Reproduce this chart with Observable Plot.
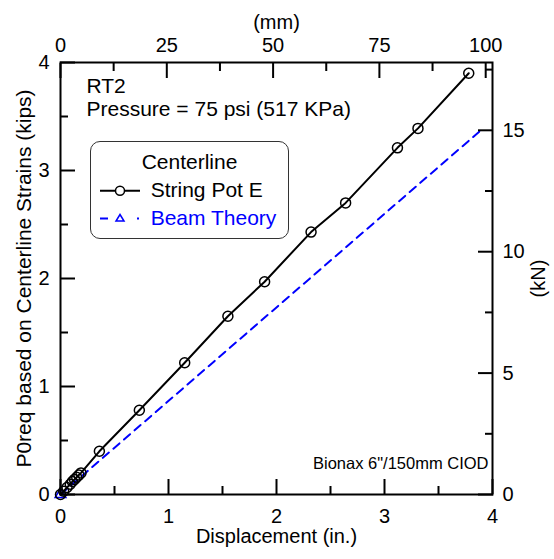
<!DOCTYPE html>
<html><head><meta charset="utf-8">
<script src="https://cdn.jsdelivr.net/npm/d3@7"></script>
<script src="https://cdn.jsdelivr.net/npm/@observablehq/plot@0.6"></script>
<style>
body{margin:0;background:#fff;font-family:"Liberation Sans",Arial,sans-serif;}
#wrap{position:relative;width:554px;height:559px;}
.lg{position:absolute;font-size:21px;line-height:21px;white-space:nowrap;}
#box{position:absolute;left:90px;top:141px;width:197px;height:96px;border:1.3px solid #333;border-radius:10px;}
</style></head><body><div id="wrap"></div>
<script>
// String Pot E (displacement in., load kips)
const strX = [0, 0.03, 0.06, 0.09, 0.11, 0.13, 0.15, 0.17, 0.19, 0.36, 0.73, 1.15, 1.55, 1.89, 2.32, 2.64, 3.12, 3.31, 3.78];
const strY = [0, 0.03, 0.065, 0.095, 0.12, 0.14, 0.16, 0.18, 0.20, 0.40, 0.78, 1.22, 1.65, 1.97, 2.43, 2.70, 3.21, 3.39, 3.90];
// Beam Theory
const beamX = [0, 3.89];
const beamY = [0, 3.37];
// tick values
const inTicks = [0, 1, 2, 3, 4];
const inMinor = [0.5, 1.5, 2.5, 3.5];
const mmTicks = [0, 25, 50, 75, 100];
const mmMinor = [12.5, 37.5, 62.5, 87.5];
const kipTicks = [0, 1, 2, 3, 4];
const kipMinor = [0.5, 1.5, 2.5, 3.5];
const kNTicks = [0, 5, 10, 15];
const kNMinor = [2.5, 7.5, 12.5, 17.5];
const MM_PER_IN = 25.4;
const KN_PER_KIP = 4.44822;

const strData = strX.map((x, i) => ({x, y: strY[i]}));
const beamData = beamX.map((x, i) => ({x, y: beamY[i]}));

const mmIn = mmTicks.map(m => m / MM_PER_IN);
const mmMinIn = mmMinor.map(m => m / MM_PER_IN);
const kNKip = kNTicks.map(k => k / KN_PER_KIP);
const kNMinKip = kNMinor.map(k => k / KN_PER_KIP);

const blank = () => "";
const tk = {strokeWidth: 2, tickFormat: blank, label: null};
const fmt = d => String(d);

const chart = Plot.plot({
  width: 554, height: 559,
  marginLeft: 60, marginRight: 62, marginTop: 62, marginBottom: 65,
  style: {fontFamily: "Liberation Sans, Arial, sans-serif", fontSize: "20px", background: "white", color: "black", overflow: "visible"},
  x: {domain: [0, 4]},
  y: {domain: [0, 4]},
  marks: [
    Plot.line(beamData, {x: "x", y: "y", stroke: "#0000ff", strokeWidth: 2, strokeDasharray: "8,6"}),
    Plot.dot([beamData[0]], {x: "x", y: "y", symbol: "triangle", r: 4, stroke: "#0000ff", fill: "none", strokeWidth: 1.5}),
    Plot.line(strData, {x: "x", y: "y", stroke: "black", strokeWidth: 2}),
    Plot.dot(strData, {x: "x", y: "y", r: 5, stroke: "black", fill: "none", strokeWidth: 1.5}),
    Plot.frame({stroke: "black", strokeWidth: 2}),
    // bottom axis (in.)
    Plot.axisX(inTicks, {anchor: "bottom", tickSize: -15, ...tk}),
    Plot.axisX(inMinor, {anchor: "bottom", tickSize: -8, ...tk}),
    Plot.axisX(inTicks, {anchor: "bottom", tickSize: 0, tickPadding: 14, label: null, tickFormat: fmt, fontSize: 20}),
    // top axis (mm)
    Plot.axisX(mmIn, {anchor: "top", tickSize: -15, ...tk}),
    Plot.axisX(mmMinIn, {anchor: "top", tickSize: -8, ...tk}),
    Plot.axisX(mmIn, {anchor: "top", tickSize: 0, tickPadding: 11, label: null, tickFormat: d => String(Math.round(d * MM_PER_IN)), fontSize: 20}),
    // left axis (kips)
    Plot.axisY(kipTicks, {anchor: "left", tickSize: -15, ...tk}),
    Plot.axisY(kipMinor, {anchor: "left", tickSize: -8, ...tk}),
    Plot.axisY(kipTicks, {anchor: "left", tickSize: 0, tickPadding: 11, label: null, tickFormat: fmt, fontSize: 20}),
    // right axis (kN)
    Plot.axisY(kNKip, {anchor: "right", tickSize: -15, ...tk}),
    Plot.axisY(kNMinKip, {anchor: "right", tickSize: -8, ...tk}),
    Plot.axisY(kNKip, {anchor: "right", tickSize: 0, tickPadding: 10, label: null, tickFormat: d => String(Math.round(d * KN_PER_KIP)), fontSize: 20}),
    // axis titles
    Plot.text(["Displacement (in.)"], {frameAnchor: "bottom", textAnchor: "middle", dy: 48.5, fontSize: 20}),
    Plot.text(["(mm)"], {frameAnchor: "top", textAnchor: "middle", dy: -47.5, fontSize: 20}),
    Plot.text(["P0req based on Centerline Strains (kips)"], {frameAnchor: "left", textAnchor: "middle", rotate: -90, dx: -36.7, fontSize: 21}),
    Plot.text(["(kN)"], {frameAnchor: "right", textAnchor: "middle", rotate: -90, dx: 45.6, fontSize: 20}),
    // annotations
    Plot.text(["RT2"], {frameAnchor: "top-left", textAnchor: "start", lineAnchor: "top", dx: 26, dy: 15.8, fontSize: 21}),
    Plot.text(["Pressure = 75 psi (517 KPa)"], {frameAnchor: "top-left", textAnchor: "start", lineAnchor: "top", dx: 26, dy: 38.1, fontSize: 21}),
    Plot.text(["Bionax 6\"/150mm CIOD"], {frameAnchor: "bottom-right", textAnchor: "end", lineAnchor: "bottom", dx: -4, dy: -25.7, fontSize: 16.5})
  ]
});
const wrap = document.getElementById("wrap");
wrap.appendChild(chart);

// legend
const legendTitle = "Centerline";
const legendItems = [
  {name: "String Pot E", color: "black"},
  {name: "Beam Theory", color: "#0000ff"}
];
const box = document.createElement("div");
box.id = "box";
wrap.appendChild(box);
const t = document.createElement("div");
t.className = "lg";
t.textContent = legendTitle;
t.style.left = "90px"; t.style.width = "199px"; t.style.textAlign = "center"; t.style.top = "150.5px";
wrap.appendChild(t);
const l1 = document.createElement("div");
l1.className = "lg"; l1.textContent = legendItems[0].name;
l1.style.left = "150.7px"; l1.style.top = "178.9px"; l1.style.color = legendItems[0].color;
wrap.appendChild(l1);
const l2 = document.createElement("div");
l2.className = "lg"; l2.textContent = legendItems[1].name;
l2.style.left = "150.7px"; l2.style.top = "207.2px"; l2.style.color = legendItems[1].color;
wrap.appendChild(l2);
const ns = "http://www.w3.org/2000/svg";
const sw = document.createElementNS(ns, "svg");
sw.setAttribute("width", "50"); sw.setAttribute("height", "50");
sw.style.position = "absolute"; sw.style.left = "98px"; sw.style.top = "180px";
sw.innerHTML = `
<line x1="2" y1="10.7" x2="42" y2="10.7" stroke="black" stroke-width="2"/>
<circle cx="22" cy="10.7" r="4.5" fill="white" stroke="black" stroke-width="1.5"/>
<line x1="2" y1="38.5" x2="10" y2="38.5" stroke="#0000ff" stroke-width="2"/>
<path d="M22,34.5 L26,41 L18,41 Z" fill="none" stroke="#0000ff" stroke-width="1.5"/>
<line x1="39" y1="38.5" x2="41" y2="38.5" stroke="#0000ff" stroke-width="2"/>`;
wrap.appendChild(sw);
</script>
</body></html>
